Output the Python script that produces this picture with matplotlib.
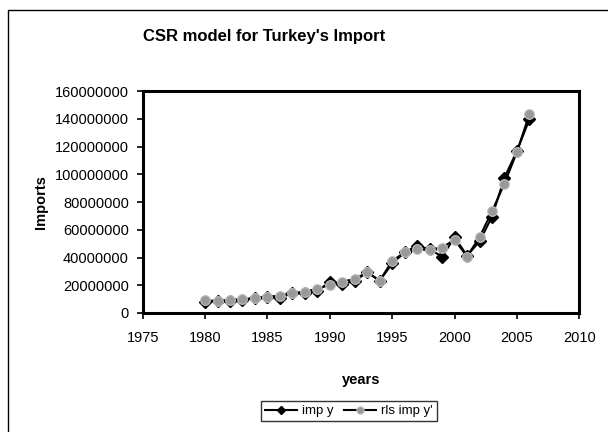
import matplotlib
matplotlib.use("Agg")
import matplotlib.pyplot as plt
from matplotlib.patches import Rectangle

years = list(range(1980, 2007))
imp_y = [7.909, 8.933, 8.843, 9.235, 10.757, 11.343, 11.105, 14.158, 14.335, 15.792,
         22.302, 21.047, 22.871, 29.428, 23.270, 35.709, 43.627, 48.559, 45.921, 40.671,
         54.503, 41.399, 51.554, 69.340, 97.540, 116.774, 139.576]
rls_imp_y = [9.2, 8.6, 9.6, 9.9, 10.8, 11.6, 12.6, 14.4, 15.3, 17.6,
             20.2, 22.6, 24.5, 29.3, 23.3, 37.5, 43.7, 45.8, 45.6, 47.2,
             52.8, 40.7, 54.7, 73.2, 93.3, 116.1, 143.4]
imp_y = [v * 1e6 for v in imp_y]
rls_imp_y = [v * 1e6 for v in rls_imp_y]

xticks = [1975, 1980, 1985, 1990, 1995, 2000, 2005, 2010]
yticks = [0, 20000000, 40000000, 60000000, 80000000, 100000000, 120000000, 140000000, 160000000]

plt.rcParams['font.family'] = ['Liberation Sans', 'DejaVu Sans']

fig = plt.figure(figsize=(6.08, 4.32), dpi=100)
fig.patches.append(Rectangle((8/608, -0.05), 1.1, 1 - 10/432 + 0.05,
                             transform=fig.transFigure, fill=False,
                             edgecolor='black', linewidth=1.0))

ax = fig.add_axes([142.7/608, 1 - 313/432, (579.3 - 142.7)/608, (313 - 91)/432])

ax.plot(years, imp_y, color='black', linewidth=1.5, marker='D', markersize=6,
        markerfacecolor='black', markeredgecolor='black', label='imp y', zorder=3)
ax.plot(years, rls_imp_y, color='black', linewidth=1.5, marker='o', markersize=7,
        markerfacecolor='#999999', markeredgecolor='#c0c0c0', markeredgewidth=0.8,
        label="rls imp y'", zorder=4)

ax.set_xlim(1975, 2010)
ax.set_ylim(0, 160000000)
ax.set_xticks(xticks)
ax.set_yticks(yticks)
ax.set_xticklabels([str(t) for t in xticks], fontsize=10.5)
ax.set_yticklabels([str(t) for t in yticks], fontsize=10.5)
ax.tick_params(direction='out', length=4, width=1.2)
ax.tick_params(axis='x', pad=9)
ax.tick_params(axis='y', pad=6)
for s in ax.spines.values():
    s.set_linewidth(2.2)

ax.set_xlabel('years', fontsize=10.5, fontweight='bold', labelpad=20)
ax.set_ylabel('Imports', fontsize=10.5, fontweight='bold', labelpad=5)
fig.text(264/608, 1 - 37/432, "CSR model for Turkey's Import", ha='center', va='center',
         fontsize=12, fontweight='bold')

leg = fig.legend(loc='center', bbox_to_anchor=(349/608, 1 - 411/432), ncol=2,
                 frameon=True, fancybox=False, fontsize=9.5, handlelength=2.4,
                 columnspacing=0.8, handletextpad=0.4, borderpad=0.3, markerscale=0.75)
leg.get_frame().set_edgecolor('black')
leg.get_frame().set_linewidth(1.0)

fig.savefig('out.png', dpi=100)
